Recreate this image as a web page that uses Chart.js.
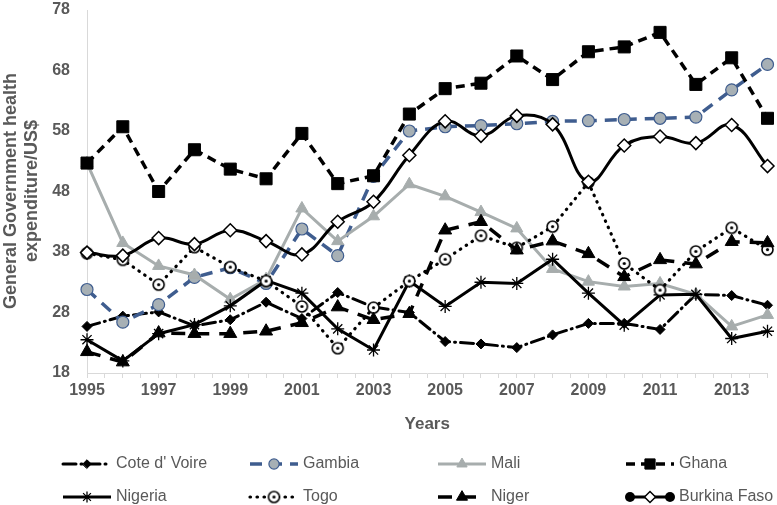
<!DOCTYPE html>
<html>
<head>
<meta charset="utf-8">
<script src="https://cdn.jsdelivr.net/npm/chart.js@4.4.1/dist/chart.umd.min.js"></script>
<style>
  html, body { margin: 0; padding: 0; background: #fff; }
  #wrap { width: 777px; height: 505px; }
</style>
</head>
<body>
<div id="wrap"><canvas id="chart" width="777" height="505"></canvas></div>
<script>
// ─── DATA ─────────────────────────────────────────────────────────────────────
const years = [1995,1996,1997,1998,1999,2000,2001,2002,2003,2004,2005,2006,2007,2008,2009,2010,2011,2012,2013,2014];
const yTicks = [18, 28, 38, 48, 58, 68, 78];

const coteDVoire  = [25.7,27.4,28.1,25.8,26.8,29.7,27.0,31.3,28.9,28.0,23.2,22.8,22.2,24.3,26.2,26.2,25.2,31.0,30.8,29.2];
const gambia      = [31.8,26.4,29.3,33.8,35.4,32.8,41.8,37.4,50.5,58.0,58.7,58.9,59.2,59.6,59.7,59.9,60.1,60.3,64.8,69.0];
const mali        = [52.7,39.5,35.7,34.2,30.2,33.5,45.2,39.8,43.9,49.2,47.2,44.6,41.9,35.2,33.1,32.3,32.8,31.0,25.7,27.6];
const ghana       = [52.7,58.7,48.0,54.9,51.7,50.1,57.6,49.3,50.6,60.8,65.0,65.9,70.4,66.5,71.1,71.9,74.3,65.7,70.1,60.1];
const nigeria     = [23.5,20.0,24.5,26.0,29.1,33.3,31.2,25.3,21.8,33.2,29.0,33.0,32.8,36.8,31.2,25.9,30.9,31.0,23.7,24.9];
const togo        = [37.8,36.7,32.6,38.8,35.5,33.2,29.0,22.1,28.8,33.2,36.8,40.7,38.7,42.2,49.5,36.1,31.7,38.1,42.0,38.4];
const niger       = [21.5,19.8,24.6,24.5,24.5,24.9,26.3,28.9,26.8,27.8,41.6,43.0,38.3,39.8,37.7,33.9,36.7,36.0,39.7,39.5];
const burkinaFaso = [37.9,37.4,40.3,39.3,41.6,39.8,37.6,43.0,46.3,54.0,59.6,57.2,60.5,59.1,49.6,55.6,57.1,56.0,59.0,52.2];

const labels = ['Cote d\' Voire','Gambia','Mali','Ghana','Nigeria','Togo','Niger','Burkina Faso'];

// ─── STYLE HELPERS ────────────────────────────────────────────────────────────
const FONT = '"Liberation Sans", Arial, Helvetica, sans-serif';
const TEXT = '#595959';
const AXIS = '#d9d9d9';

function togoMarker() {
  const c = document.createElement('canvas');
  c.width = 15; c.height = 15;
  const g = c.getContext('2d');
  g.beginPath(); g.arc(7.5, 7.5, 5.5, 0, Math.PI * 2);
  g.fillStyle = '#fff'; g.fill();
  g.lineWidth = 1.6; g.strokeStyle = '#000'; g.stroke();
  g.beginPath(); g.arc(7.5, 7.5, 1.6, 0, Math.PI * 2);
  g.fillStyle = '#000'; g.fill();
  return c;
}

const pts = arr => years.map((y, i) => ({ x: y, y: arr[i] }));

function series(label, arr, o) {
  return Object.assign({
    label, data: pts(arr), fill: false, clip: false,
    borderColor: '#000', borderWidth: 3, borderDash: [],
    pointBackgroundColor: '#000', pointBorderColor: '#000', pointBorderWidth: 1,
    tension: 0
  }, o, { pointHoverRadius: o.pointRadius });
}

const datasets = [
  series(labels[0], coteDVoire, { borderDash: [13, 5, 1, 5], borderCapStyle: 'round', pointStyle: 'rectRot', pointRadius: 5 }),
  series(labels[1], gambia, { borderColor: '#3f5d8f', borderWidth: 3.5, borderDash: [12, 8], pointStyle: 'circle', pointRadius: 6,
                              pointBackgroundColor: '#a7b0b5', pointBorderColor: '#3f5d8f', pointBorderWidth: 1.2 }),
  series(labels[2], mali, { borderColor: '#a7adad', borderWidth: 3, pointStyle: 'triangle', pointRadius: 7,
                            pointBackgroundColor: '#a7adad', pointBorderColor: '#a7adad' }),
  series(labels[3], ghana, { borderDash: [9, 6], borderWidth: 3.5, pointStyle: 'rect', pointRadius: 8.5 }),
  series(labels[4], nigeria, { pointStyle: 'star', pointRadius: 6.5, pointBorderWidth: 1.3 }),
  series(labels[5], togo, { borderDash: [0.5, 6.5], borderCapStyle: 'round', borderWidth: 3.2, pointStyle: togoMarker(), pointRadius: 6 }),
  series(labels[6], niger, { borderDash: [14, 10], borderWidth: 3.5, pointStyle: 'triangle', pointRadius: 7.5 }),
  series(labels[7], burkinaFaso, { tension: 0.4, pointStyle: 'rectRot', pointRadius: 6.5,
                                   pointBackgroundColor: '#fff', pointBorderColor: '#000', pointBorderWidth: 1.5 })
];
// later series are painted on top
datasets.forEach((d, i) => { d.order = datasets.length - i; });

// ─── LEGEND + TITLES ──────────────────────────────────────────────────────────
const legendCols = [63, 250, 438, 626];
const legendRows = [464, 497];

const decor = {
  id: 'decor',
  afterDraw(chart) {
    const ctx = chart.ctx, a = chart.chartArea;
    ctx.save();
    ctx.fillStyle = TEXT;
    ctx.textBaseline = 'middle';
    ctx.textAlign = 'center';
    ctx.font = 'bold 17px ' + FONT;
    ctx.fillText('Years', (a.left + a.right) / 2, 424);

    ctx.save();
    ctx.translate(11, 191);
    ctx.rotate(-Math.PI / 2);
    ctx.font = 'bold 18px ' + FONT;
    ctx.fillText('General Government health', 0, 0);
    ctx.fillText('expenditure/US$', 0, 21);
    ctx.restore();

    ctx.textAlign = 'left';
    ctx.font = '16px ' + FONT;
    datasets.forEach((ds, i) => {
      const x0 = legendCols[i % 4], x1 = x0 + 48, y = legendRows[Math.floor(i / 4)];
      ctx.save();
      ctx.strokeStyle = ds.borderColor;
      ctx.lineWidth = ds.borderWidth;
      ctx.lineCap = ds.borderCapStyle || 'butt';
      ctx.setLineDash(ds.borderDash);
      ctx.beginPath(); ctx.moveTo(x0, y); ctx.lineTo(x1, y); ctx.stroke();
      ctx.setLineDash([]);
      if (i === 7) {
        ctx.fillStyle = '#000';
        [x0 + 4, x1 - 4].forEach(cx => { ctx.beginPath(); ctx.arc(cx, y, 5, 0, Math.PI * 2); ctx.fill(); });
      }
      ctx.fillStyle = ds.pointBackgroundColor;
      ctx.strokeStyle = ds.pointBorderColor;
      ctx.lineWidth = ds.pointBorderWidth;
      if (Chart.helpers && Chart.helpers.drawPoint) {
        Chart.helpers.drawPoint(ctx, { pointStyle: ds.pointStyle, radius: ds.pointRadius * 0.85, rotation: 0, borderWidth: ds.pointBorderWidth }, (x0 + x1) / 2, y);
      }
      ctx.restore();
      ctx.fillStyle = TEXT;
      ctx.fillText(ds.label, x1 + 5, y);
    });
    ctx.restore();
  }
};

// ─── CHART ────────────────────────────────────────────────────────────────────
new Chart(document.getElementById('chart'), {
  type: 'line',
  data: { datasets },
  plugins: [decor],
  options: {
    responsive: false,
    animation: false,
    layout: { padding: { left: 0, right: 7, top: 10, bottom: 102 } },
    plugins: { legend: { display: false }, tooltip: { enabled: false } },
    scales: {
      x: {
        type: 'linear', min: years[0], max: years[years.length - 1],
        afterFit: s => { s.height = 30; s.paddingLeft = 0; s.paddingRight = 0; },
        ticks: {
          stepSize: 0.5, autoSkip: false, maxRotation: 0, padding: 3,
          color: TEXT, font: { family: FONT, size: 16, weight: 'bold' },
          callback: v => (Number.isInteger(v) && (v - years[0]) % 2 === 0) ? String(v) : ''
        },
        grid: { drawOnChartArea: false, drawTicks: true, tickLength: 5, color: AXIS },
        border: { color: AXIS, width: 1 }
      },
      y: {
        min: yTicks[0], max: yTicks[yTicks.length - 1],
        afterFit: s => { s.width = 87; s.paddingTop = 0; s.paddingBottom = 0; },
        afterBuildTicks: s => { s.ticks = yTicks.map(v => ({ value: v })); },
        ticks: { padding: 9, color: TEXT, font: { family: FONT, size: 16, weight: 'bold' } },
        grid: { display: false },
        border: { display: true, color: AXIS, width: 1 }
      }
    }
  }
});
</script>
</body>
</html>
